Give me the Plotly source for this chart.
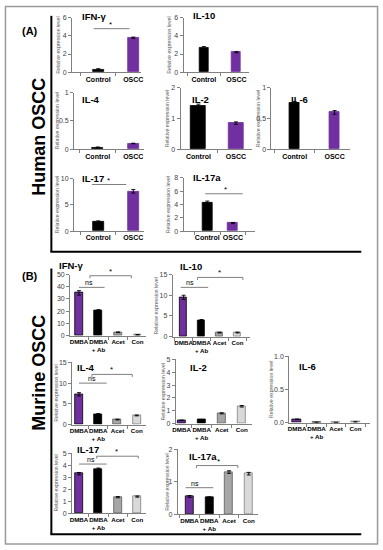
import plotly.graph_objects as go

W, H = 383, 550

# ---------------- data ----------------
human_cats = ["Control", "OSCC"]
murine_cats = ["DMBA", "DMBA<br>+ Ab", "Acet", "Con"]

human_ifng = [0.3, 3.8]
human_ifng_err = [0.08, 0.07]
human_il10 = [2.7, 2.2]
human_il10_err = [0.12, 0.06]
human_il4 = [0.03, 0.1]
human_il4_err = [0.008, 0.005]
human_il2 = [1.4, 0.85]
human_il2_err = [0.07, 0.04]
human_il6 = [0.75, 0.6]
human_il6_err = [0.03, 0.03]
human_il17 = [1.8, 7.6]
human_il17_err = [0.15, 0.35]
human_il17a = [4.3, 1.2]
human_il17a_err = [0.2, 0.08]

murine_ifng = [35, 20.5, 2.8, 0.8]
murine_ifng_err = [1.8, 0.8, 0.3, 0.2]
murine_il10 = [9.5, 4.0, 1.0, 1.0]
murine_il10_err = [0.5, 0.15, 0.1, 0.1]
murine_il4 = [7.3, 2.5, 1.2, 2.2]
murine_il4_err = [0.4, 0.15, 0.08, 0.1]
murine_il2 = [0.25, 0.3, 0.8, 1.35]
murine_il2_err = [0.02, 0.02, 0.04, 0.06]
murine_il6 = [0.05, 0.003, 0.003, 0.01]
murine_il6_err = [0.003, 0.001, 0.001, 0.002]
murine_il17 = [3.3, 3.65, 1.35, 1.4]
murine_il17_err = [0.1, 0.12, 0.05, 0.05]
murine_il17a = [0.55, 0.52, 1.3, 1.25]
murine_il17a_err = [0.03, 0.02, 0.04, 0.04]

human_colors = ["#000000", "#7030A0"]
murine_colors = ["#7030A0", "#000000", "#A6A6A6", "#D9D9D9"]
murine_lines = ["#000000", "#000000", "#595959", "#7f7f7f"]

# significance marks in data units: (kind, x0, x1, level, text_x, text)
sig = {
    1: [("line", -0.13, 0.89, 4.8, 0.36, "*")],
    6: [("line", -0.18, 0.80, 8.9, 0.30, "*")],
    7: [("line", -0.08, 1.38, 5.6, 0.69, "*")],
    8: [("line", 0.0, 1.31, 39.5, 0.5, "ns"), ("bracket", 0.56, 2.68, 49, 1.6, "*")],
    9: [("line", -0.16, 1.37, 11.9, 0.38, "ns"), ("bracket", 0.77, 3.3, 14.3, 2.0, "*")],
    10: [("line", 0.0, 1.44, 10.0, 0.65, "ns"), ("bracket", 0.67, 2.77, 12.1, 1.7, "*")],
    13: [("line", 0.0, 1.42, 4.1, 0.6, "ns"), ("bracket", 0.91, 3.05, 4.75, 1.93, "*")],
    14: [("line", -0.2, 1.2, 0.82, 0.3, "ns"), ("bracket", 0.35, 2.45, 1.5, 1.45, "*")],
}

# panel specs: title, cats, vals, errs, colors, line colors, layout (pixels)
panels = [
    ("IFN-\u03b3", human_cats, human_ifng, human_ifng_err, human_colors, human_colors,
     dict(xa=(70, 140), c0=96.5, s=35.5, bw=11, y=(69, 14), ymax=6, dt=2, t=(78, 13), yl=55.5)),
    ("IL-10", human_cats, human_il10, human_il10_err, human_colors, human_colors,
     dict(xa=(183, 249), c0=203.5, s=33, bw=9, y=(69, 14), ymax=6, dt=2, t=(190, 12), yl=168)),
    ("IL-4", human_cats, human_il4, human_il4_err, human_colors, human_colors,
     dict(xa=(72, 143), c0=96, s=36, bw=11, y=(147, 90), ymax=1, dt=0.5, t=(78, 97), yl=55)),
    ("IL-2", human_cats, human_il2, human_il2_err, human_colors, human_colors,
     dict(xa=(180, 252), c0=198, s=38, bw=15, y=(147, 85), ymax=2, dt=1, t=(189, 97), yl=166)),
    ("IL-6", human_cats, human_il6, human_il6_err, human_colors, human_colors,
     dict(xa=(272, 352), c0=295.5, s=40.5, bw=10, y=(147, 85), ymax=1, dt=0.5, t=(290, 97), yl=258)),
    ("IL-17", human_cats, human_il17, human_il17_err, human_colors, human_colors,
     dict(xa=(72, 143), c0=96.5, s=35.5, bw=11, y=(230, 177), ymax=10, dt=5, t=(78, 177), yl=55)),
    ("IL-17a", human_cats, human_il17a, human_il17a_err, human_colors, human_colors,
     dict(xa=(183, 255), c0=207, s=26, bw=10, y=(230, 176), ymax=8, dt=2, t=(190, 176), yl=168)),
    ("IFN-\u03b3", murine_cats, murine_ifng, murine_ifng_err, murine_colors, murine_lines,
     dict(xa=(68, 145), c0=77, s=19.8, bw=8, y=(336, 274), ymax=50, dt=10, t=(55, 265), yl=None)),
    ("IL-10", murine_cats, murine_il10, murine_il10_err, murine_colors, murine_lines,
     dict(xa=(172, 250), c0=183, s=18.2, bw=7, y=(337, 274), ymax=15, dt=5, t=(177, 266), yl=155)),
    ("IL-4", murine_cats, murine_il4, murine_il4_err, murine_colors, murine_lines,
     dict(xa=(70, 145), c0=77, s=19.5, bw=8, y=(426, 363), ymax=15, dt=5, t=(73, 368), yl=54)),
    ("IL-2", murine_cats, murine_il2, murine_il2_err, murine_colors, murine_lines,
     dict(xa=(175, 252), c0=181, s=20.3, bw=8, y=(425, 360), ymax=5, dt=1, t=(187, 368), yl=162)),
    ("IL-6", murine_cats, murine_il6, murine_il6_err, murine_colors, murine_lines,
     dict(xa=(290, 372), c0=298, s=19.7, bw=9, y=(424, 357), ymax=1, dt=0.5, t=(298, 367), yl=271, fmt=".1f")),
    ("IL-17", murine_cats, murine_il17, murine_il17_err, murine_colors, murine_lines,
     dict(xa=(70, 145), c0=77, s=19.7, bw=8, y=(516, 455), ymax=5, dt=1, t=(73, 451), yl=54)),
    ("IL-17a", murine_cats, murine_il17a, murine_il17a_err, murine_colors, murine_lines,
     dict(xa=(177, 258), c0=189, s=20, bw=8, y=(517, 451), ymax=2, dt=1, t=(186, 458), yl=166)),
]

FONT = "Liberation Sans, Arial, sans-serif"


def px(x):
    return x / W


def py(y):
    return 1 - y / H


fig = go.Figure()
annotations = []
shapes = []

for i, (title, cats, vals, errs, cols, lcols, L) in enumerate(panels, start=1):
    xs = list(range(len(cats)))
    r0 = (L["xa"][0] - L["c0"]) / L["s"]
    r1 = (L["xa"][1] - L["c0"]) / L["s"]
    bw = L["bw"] / L["s"]
    fig.add_trace(go.Bar(
        x=xs, y=vals, width=bw,
        marker=dict(color=cols, line=dict(color=lcols, width=0.8)),
        error_y=dict(type="data", array=errs, color="#000000", thickness=0.9, width=2),
        xaxis=f"x{i}", yaxis=f"y{i}", showlegend=False, hoverinfo="skip",
    ))
    n = len(cats)
    minor_vals = [k - 0.5 for k in range(n + 1)]
    fig.layout[f"xaxis{i}"] = dict(
        domain=[px(L["xa"][0]), px(L["xa"][1])], anchor=f"y{i}",
        range=[r0, r1], tickmode="array", tickvals=xs, ticktext=cats,
        ticks="", showline=True, linecolor="#808080", linewidth=1,
        showgrid=False, zeroline=False, tickangle=0, fixedrange=True,
        tickfont=dict(family=FONT, size=7 if n == 2 else 6.2, color="#000000", weight="bold"),
        minor=dict(tickmode="array", tickvals=minor_vals, ticks="outside",
                   ticklen=3, tickcolor="#808080", tickwidth=1),
    )
    fig.layout[f"yaxis{i}"] = dict(
        domain=[py(L["y"][0]), py(L["y"][1])], anchor=f"x{i}",
        range=[0, L["ymax"]], dtick=L["dt"], tick0=0,
        tickformat=L.get("fmt", ""), fixedrange=True,
        ticks="outside", ticklen=3, tickcolor="#808080", tickwidth=1,
        showline=True, linecolor="#808080", linewidth=1,
        showgrid=False, zeroline=False,
        tickfont=dict(family=FONT, size=7, color="#404040"),
    )
    # subplot title
    annotations.append(dict(
        text=title, x=px(L["t"][0]), y=py(L["t"][1]), xref="paper", yref="paper",
        xanchor="left", yanchor="middle", showarrow=False,
        font=dict(family=FONT, size=9.5, color="#000000", weight="bold"),
    ))
    # y-axis label
    if L["yl"] is not None:
        annotations.append(dict(
            text="Relative expression level", x=px(L["yl"]),
            y=py((L["y"][0] + L["y"][1]) / 2), xref="paper", yref="paper",
            xanchor="center", yanchor="middle", textangle=-90, showarrow=False,
            font=dict(family=FONT, size=5.2, color="#595959"),
        ))
    # significance marks
    for kind, a, b, lev, tx, txt in sig.get(i, []):
        dy = 0.04 * L["ymax"]
        if kind == "bracket":
            path = f"M {a},{lev - dy} L {a},{lev} L {b},{lev} L {b},{lev - dy}"
        else:
            path = f"M {a},{lev} L {b},{lev}"
        shapes.append(dict(type="path", path=path, xref=f"x{i}", yref=f"y{i}",
                           line=dict(color="#7f7f7f", width=1)))
        annotations.append(dict(
            text=txt, x=tx, y=lev, xref=f"x{i}", yref=f"y{i}",
            xanchor="center", yanchor="bottom", showarrow=False,
            yshift=-2 if txt == "*" else -1,
            font=dict(family=FONT, size=8 if txt == "*" else 7, color="#000000"),
        ))

# frames
shapes.append(dict(type="rect", xref="paper", yref="paper",
                   x0=px(2.5), x1=px(379.5), y0=py(547), y1=py(2.5),
                   line=dict(color="#9a9a9a", width=1.5)))
for (yt, yb) in [(12, 251), (268, 537)]:
    shapes.append(dict(type="line", xref="paper", yref="paper",
                       x0=px(49), x1=px(49), y0=py(yt), y1=py(yb),
                       line=dict(color="#000000", width=2)))
    shapes.append(dict(type="line", xref="paper", yref="paper",
                       x0=px(48), x1=px(363), y0=py(yb), y1=py(yb),
                       line=dict(color="#000000", width=2)))

# panel labels
for txt, x, y in [("(A)", 27, 27), ("(B)", 27, 276)]:
    annotations.append(dict(text=txt, x=px(x), y=py(y), xref="paper", yref="paper",
                            xanchor="center", yanchor="middle", showarrow=False,
                            font=dict(family=FONT, size=11, color="#000000", weight="bold")))
for txt, y in [("Human OSCC", 135), ("Murine OSCC", 374)]:
    annotations.append(dict(text=txt, x=px(37), y=py(y), xref="paper", yref="paper",
                            xanchor="center", yanchor="middle", textangle=-90, showarrow=False,
                            font=dict(family=FONT, size=18, color="#000000", weight="bold")))

fig.update_layout(
    width=W, height=H, margin=dict(l=0, r=0, t=0, b=0),
    paper_bgcolor="white", plot_bgcolor="white",
    annotations=annotations, shapes=shapes, bargap=0,
    font=dict(family=FONT), hovermode=False,
)

fig.write_html("out.html", config={"displayModeBar": False},
               post_script="document.body.style.margin='0px';")
